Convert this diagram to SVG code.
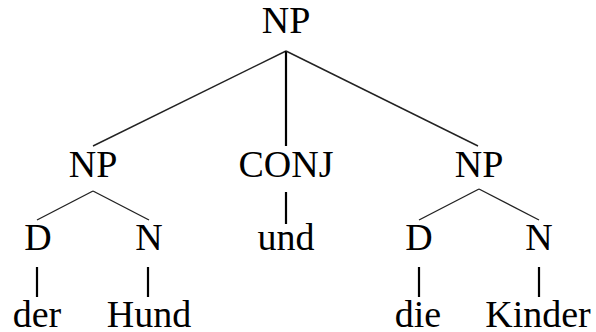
<svg xmlns="http://www.w3.org/2000/svg" width="596" height="332" viewBox="0 0 596 332">
<style>
text{font-family:"Liberation Serif","DejaVu Serif",serif;font-size:38px;fill:#000;text-anchor:middle}
.d{stroke:#222;stroke-width:1.4;fill:none}
.v{stroke:#000;stroke-width:2.2;fill:none}
</style>
<rect width="596" height="332" fill="#fff"/>
<g id="connectors">
<line class="d" x1="286" y1="51" x2="93" y2="146"/>
<line class="v" x1="286" y1="51" x2="286" y2="146"/>
<line class="d" x1="286" y1="51" x2="478" y2="146"/>
<line class="d" x1="93" y1="191" x2="37" y2="220"/>
<line class="d" x1="93" y1="191" x2="149" y2="220"/>
<line class="v" x1="286" y1="192" x2="286" y2="224"/>
<line class="d" x1="479" y1="189" x2="419" y2="220"/>
<line class="d" x1="479" y1="189" x2="539" y2="220"/>
<line class="v" x1="37" y1="267" x2="37" y2="297"/>
<line class="v" x1="148" y1="267" x2="148" y2="297"/>
<line class="v" x1="419" y1="267" x2="419" y2="297"/>
<line class="v" x1="539" y1="267" x2="539" y2="297"/>
</g>
<g id="np-root"><text x="286" y="33">NP</text></g>
<g id="np-left"><text x="93" y="177">NP</text></g>
<g id="conj"><text x="286" y="177">CONJ</text></g>
<g id="np-right"><text x="479" y="177">NP</text></g>
<g id="d-left"><text x="38" y="250">D</text></g>
<g id="n-left"><text x="149" y="250">N</text></g>
<g id="und"><text x="286" y="250">und</text></g>
<g id="d-right"><text x="419" y="250">D</text></g>
<g id="n-right"><text x="539" y="250">N</text></g>
<g id="der"><text x="37" y="327">der</text></g>
<g id="hund"><text x="149" y="327">Hund</text></g>
<g id="die"><text x="418" y="327">die</text></g>
<g id="kinder"><text x="538" y="327">Kinder</text></g>
</svg>
